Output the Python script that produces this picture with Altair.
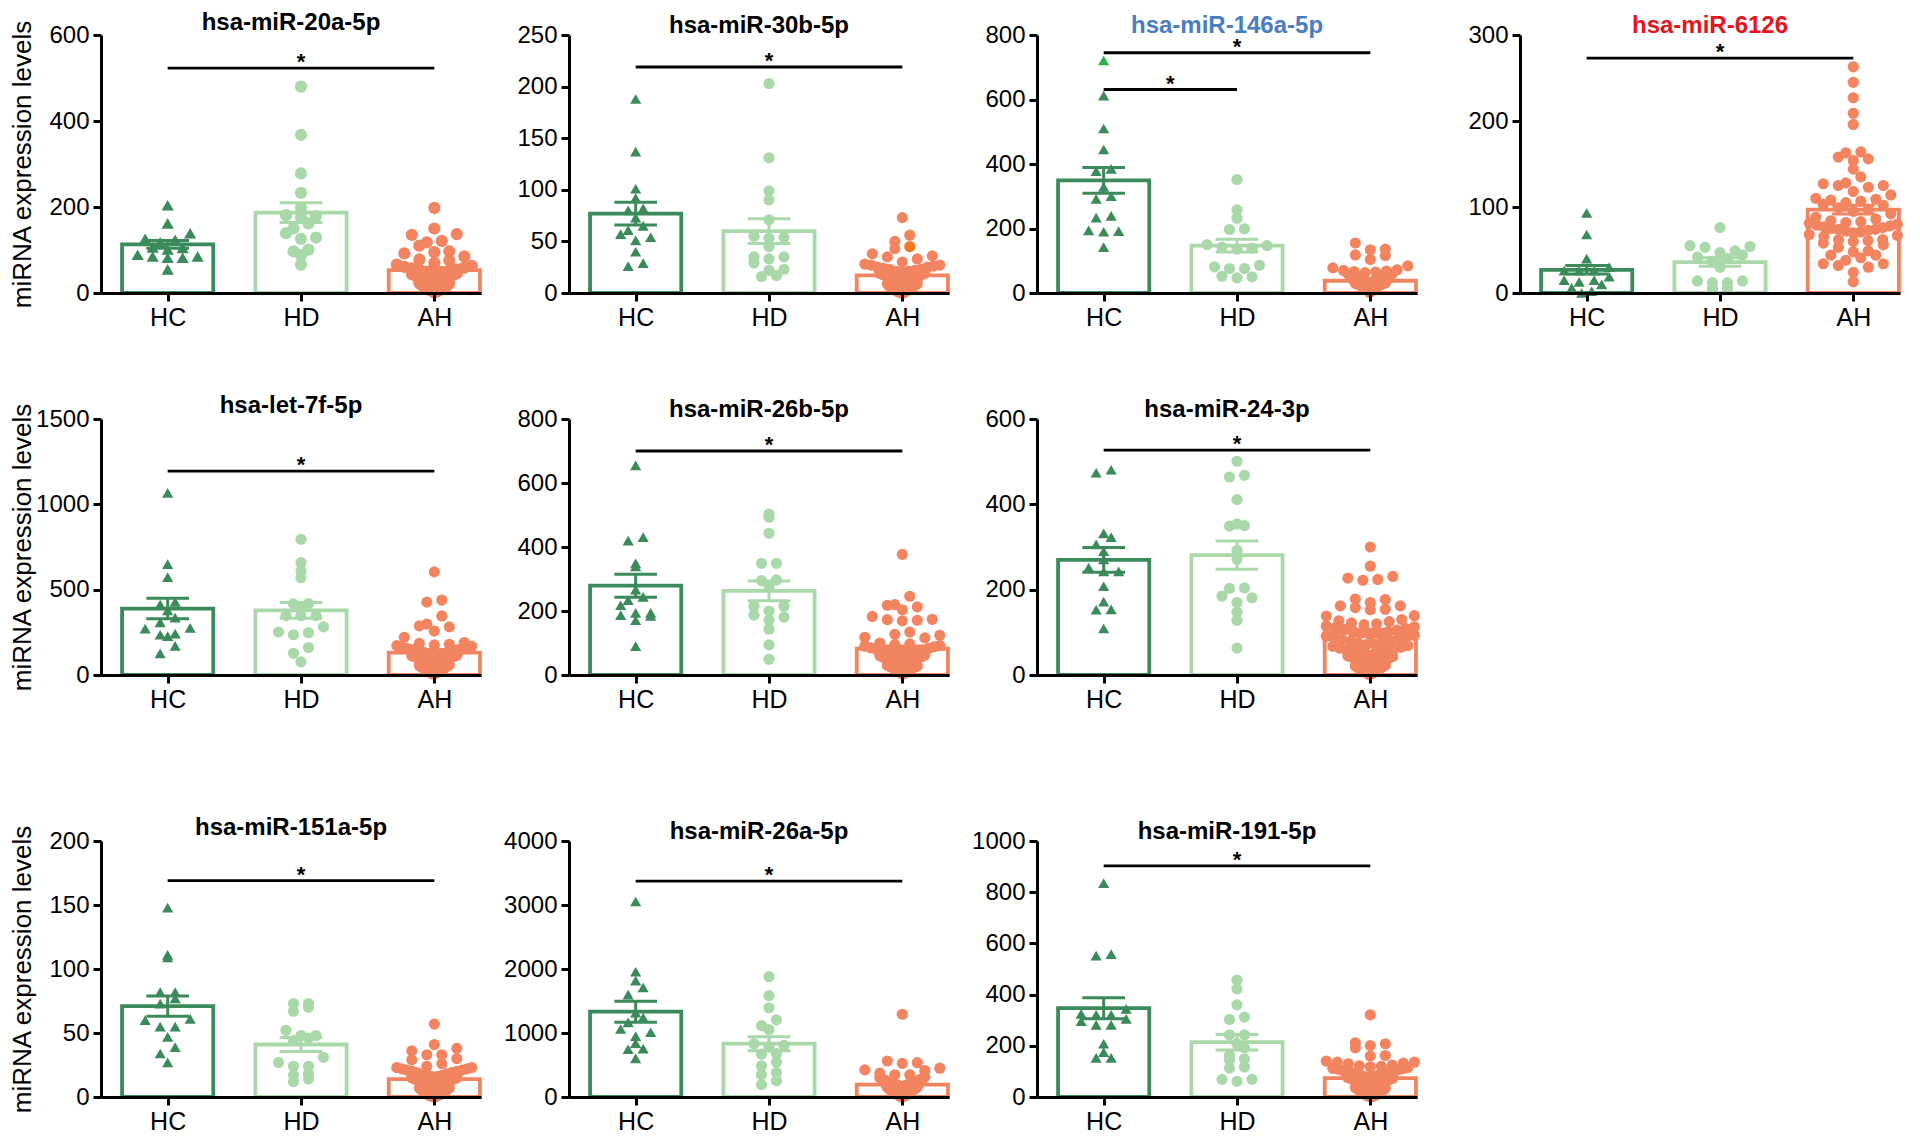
import math
import altair as alt
import pandas as pd

FONT = "Liberation Sans"
GROUPS = ["HC", "HD", "AH"]

TITLES = ["hsa-miR-20a-5p", "hsa-miR-30b-5p", "hsa-miR-146a-5p", "hsa-miR-6126",
          "hsa-let-7f-5p", "hsa-miR-26b-5p", "hsa-miR-24-3p",
          "hsa-miR-151a-5p", "hsa-miR-26a-5p", "hsa-miR-191-5p"]
Y_MAX = [600, 250, 800, 300, 1500, 800, 600, 200, 4000, 1000]
Y_STEP = [200, 50, 200, 100, 500, 200, 200, 50, 1000, 200]
Y_TITLE = "miRNA expression levels"

# ---- hsa-miR-20a-5p
MIR20A_HC = [204, 162, 139, 126, 118, 124, 105, 106, 85, 82, 101, 82, 85, 89, 55]
MIR20A_HD = [480, 368, 278, 233, 198, 181, 175, 179, 162, 150, 139, 129, 126, 97, 101, 88, 66]
MIR20A_AH = [198, 150, 137, 135, 121, 118, 110, 97, 95, 92, 85, 78, 76, 70,
             66, 63, 61, 59, 57, 55, 54, 52, 50, 49, 47, 46, 44, 43, 41, 40, 38, 37, 35, 34,
             32, 31, 30, 28, 27, 26, 24, 23, 22, 20, 19, 18, 16, 15, 14, 12, 11, 10, 9, 8,
             7, 6, 5, 4, 3, 2]
MIR20A_MEAN = [113, 187, 53]
MIR20A_SEM = [9, 23, 5]

# ---- hsa-miR-30b-5p
MIR30B_HC = [188, 137, 101, 92, 82, 80, 73, 65, 61, 54, 57, 51, 40, 26, 29]
MIR30B_HD = [203, 131, 99, 90, 71, 55, 53, 54, 45, 35, 33, 35, 29, 22, 23, 16, 17]
MIR30B_AH = [73, 56, 50, 45, 43, 36, 33, 35, 38, 27, 30,
             28, 27, 26, 25, 25, 24, 23, 23, 22, 21, 21, 20, 19, 19, 18, 18, 17, 16, 16, 15,
             15, 14, 13, 13, 12, 12, 11, 10, 10, 9, 9, 8, 7, 7, 6, 6, 5, 5, 4, 4, 3, 3, 2, 2,
             1, 1, 1, 0, 0]
MIR30B_MEAN = [77, 60, 17]
MIR30B_SEM = [11, 12, 2]

# ---- hsa-miR-146a-5p
MIR146A_HC = [721, 612, 510, 445, 385, 378, 329, 292, 300, 239, 234, 192, 190, 194, 142]
MIR146A_HD = [352, 258, 232, 197, 199, 147, 150, 139, 136, 142, 86, 81, 76, 76, 52, 47, 50]
MIR146A_AH = [155, 136, 134, 118, 116, 104, 84, 78,
              72, 70, 68, 66, 65, 63, 62, 60, 58, 57, 56, 55, 54, 52, 51, 50, 49, 48, 47, 46,
              45, 44, 43, 42, 41, 40, 39, 38, 37, 36, 35, 34, 33, 32, 31, 30, 29, 28, 27, 26,
              25, 24, 22, 20, 18, 16, 14, 12, 10, 8, 5, 2]
MIR146A_MEAN = [349, 147, 38]
MIR146A_SEM = [40, 20, 4]

# ---- hsa-miR-6126
MIR6126_HC = [93, 68, 40, 30, 26, 26, 26, 19, 15, 13, 15, 10, 6, 2, 0]
MIR6126_HD = [76, 53, 55, 54, 42, 49, 44, 47, 40, 30, 14, 12, 12, 14, 5, 6, 37]
MIR6126_AH = [263, 245, 227, 209, 196, 163, 164, 156, 154, 158, 144, 135, 127, 125, 123, 125,
              128, 118, 114, 109, 107, 110, 108, 105, 103, 102, 92, 79, 78, 77, 76, 75, 74, 74,
              73, 72, 71, 70, 68, 67, 62, 62, 61, 60, 53, 49, 48, 44, 44, 41, 38, 34, 34, 32,
              24, 13, 88, 86, 84, 83, 82, 81, 80, 95, 99, 97, 66, 58, 56, 30]
MIR6126_MEAN = [27, 36, 97]
MIR6126_SEM = [5, 5, 5]

# ---- hsa-let-7f-5p
LET7F_HC = [1067, 650, 574, 413, 429, 379, 336, 308, 272, 276, 236, 228, 242, 171, 127]
LET7F_HD = [795, 658, 610, 570, 419, 417, 403, 348, 348, 348, 282, 248, 236, 252, 161, 127, 77]
LET7F_AH = [604, 427, 439, 346, 298, 282, 258, 288, 221,
            190, 185, 180, 176, 172, 168, 165, 162, 158, 155, 152, 150, 147, 144, 141, 138,
            135, 132, 130, 127, 124, 121, 118, 115, 112, 110, 107, 104, 100, 97, 94, 90, 86,
            82, 78, 74, 70, 66, 62, 58, 54, 50, 45, 40, 35, 30, 25, 20, 15, 10, 5]
LET7F_MEAN = [389, 379, 131]
LET7F_SEM = [60, 46, 17]

# ---- hsa-miR-26b-5p
MIR26B_HC = [655, 420, 431, 349, 339, 267, 244, 234, 218, 194, 185, 171, 187, 194, 90]
MIR26B_HD = [503, 493, 443, 349, 349, 295, 297, 276, 215, 215, 187, 200, 181, 171, 143, 94, 49]
MIR26B_AH = [377, 246, 204, 218, 220, 213, 173, 171, 169, 174, 183, 134, 124, 116, 118, 127,
             100, 97, 95, 92, 90, 88, 85, 83, 80, 78, 76, 74, 72, 70, 68, 66, 64, 62, 60, 58,
             56, 54, 52, 50, 48, 46, 44, 42, 40, 38, 36, 34, 32, 30, 28, 26, 24, 22, 20, 17,
             14, 11, 7, 3]
MIR26B_MEAN = [279, 263, 82]
MIR26B_SEM = [36, 31, 9]

# ---- hsa-miR-24-3p
MIR24_HC = [474, 481, 323, 332, 306, 290, 271, 252, 243, 243, 208, 154, 153, 172, 109]
MIR24_HD = [501, 468, 464, 411, 350, 349, 354, 292, 271, 185, 204, 203, 170, 181, 147, 128, 63]
MIR24_AH = [300, 255, 231, 224, 222, 227, 177, 178, 162, 162, 158, 170, 154, 153, 139, 138,
            130, 127, 125, 122, 120, 118, 115, 113, 111, 109, 107, 105, 103, 101, 99, 97, 95,
            93, 91, 89, 87, 85, 83, 81, 79, 77, 75, 73, 71, 69, 67, 65, 63, 61, 59, 57, 55,
            53, 51, 49, 47, 45, 43, 41, 39, 37, 35, 33, 31, 29, 27, 25, 23, 21, 19, 17, 15,
            13, 11, 9, 7, 5, 3, 1]
MIR24_MEAN = [270, 281, 99]
MIR24_SEM = [29, 33, 8]

# ---- hsa-miR-151a-5p
MIR151A_HC = [148, 109, 111, 82, 82, 77, 73, 61, 60, 55, 55, 47, 39, 34, 27]
MIR151A_HD = [73, 73, 70, 67, 52, 48, 44, 46, 48, 31, 27, 24, 24, 17, 18, 12, 14]
MIR151A_AH = [57, 41, 38, 36, 33, 29, 30, 33, 24, 26,
              23, 23, 22, 22, 21, 21, 20, 20, 19, 19, 18, 18, 17, 17, 16, 16, 15, 15, 14, 14,
              13, 13, 12, 12, 11, 11, 10, 10, 9, 9, 8, 8, 7, 7, 6, 6, 5, 5, 4, 4, 3, 3, 2, 2,
              2, 1, 1, 1, 0, 0]
MIR151A_MEAN = [71, 41, 14]
MIR151A_SEM = [8, 5.5, 1.5]

# ---- hsa-miR-26a-5p
MIR26A_HC = [3055, 1957, 1819, 1711, 1599, 1318, 1241, 1165, 1063, 1012, 950, 843, 756, 746, 603]
MIR26A_HD = [1880, 1584, 1395, 1206, 1114, 1052, 833, 807, 679, 782, 669, 542, 485, 383, 347,
             255, 194]
MIR26A_AH = [1293, 562, 526, 536, 424, 414, 347, 373, 450, 347,
             310, 300, 290, 282, 275, 268, 260, 252, 245, 238, 232, 225, 218, 212, 205, 198,
             192, 186, 180, 174, 168, 162, 156, 150, 144, 138, 132, 126, 120, 114, 108, 102,
             96, 90, 84, 78, 72, 66, 60, 54, 48, 42, 36, 30, 24, 18, 12, 8, 4, 1]
MIR26A_MEAN = [1333, 833, 194]
MIR26A_SEM = [165, 110, 25]

# ---- hsa-miR-191-5p
MIR191_HC = [835, 552, 558, 344, 325, 321, 321, 305, 296, 282, 282, 208, 175, 153, 153]
MIR191_HD = [457, 422, 360, 312, 303, 243, 243, 208, 192, 162, 149, 145, 117, 113, 69, 61, 69]
MIR191_AH = [321, 208, 201, 212, 192, 162, 140, 136, 136, 160, 132, 130,
             125, 122, 118, 115, 112, 109, 106, 103, 100, 97, 94, 91, 88, 85, 82, 79, 76, 73,
             70, 67, 64, 61, 58, 55, 52, 49, 46, 43, 40, 37, 34, 31, 28, 25, 22, 19, 16, 13,
             10, 8, 6, 4, 2, 1, 120, 110, 95, 80]
MIR191_MEAN = [347, 214, 74]
MIR191_SEM = [41, 30, 8]

# significance bars: (panel, from group, to group, height)
SIG_PANEL = [0, 1, 2, 2, 3, 4, 5, 6, 7, 8, 9]
SIG_FROM = [0, 0, 0, 0, 0, 0, 0, 0, 0, 0, 0]
SIG_TO = [2, 2, 2, 1, 2, 2, 2, 2, 2, 2, 2]
SIG_Y = [523, 219, 745, 631, 273, 1194, 700, 527, 169, 3372, 903]

# individually coloured points: (panel, group, value)
HIGHLIGHT_PANEL = [2, 1]
HIGHLIGHT_GROUP = [0, 2]
HIGHLIGHT_VALUE = [721, 45]

# ---------------- styles / layout
GROUP_COLORS = ["#3B8A5A", "#A9D8A9", "#F2845F"]
HIGHLIGHT_COLORS = ["#2BB24A", "#F27A1E"]
TITLE_COLORS = ["black", "black", "#4A7CC0", "#E8141B", "black", "black", "black",
                "black", "black", "black"]
SHAPES = ["triangle-up", "circle", "circle"]
POINT_SIZES = [150, 125, 125, 125, 125, 125, 125, 125, 125, 125]

PANEL_DATA = [
    (MIR20A_HC, MIR20A_HD, MIR20A_AH, MIR20A_MEAN, MIR20A_SEM),
    (MIR30B_HC, MIR30B_HD, MIR30B_AH, MIR30B_MEAN, MIR30B_SEM),
    (MIR146A_HC, MIR146A_HD, MIR146A_AH, MIR146A_MEAN, MIR146A_SEM),
    (MIR6126_HC, MIR6126_HD, MIR6126_AH, MIR6126_MEAN, MIR6126_SEM),
    (LET7F_HC, LET7F_HD, LET7F_AH, LET7F_MEAN, LET7F_SEM),
    (MIR26B_HC, MIR26B_HD, MIR26B_AH, MIR26B_MEAN, MIR26B_SEM),
    (MIR24_HC, MIR24_HD, MIR24_AH, MIR24_MEAN, MIR24_SEM),
    (MIR151A_HC, MIR151A_HD, MIR151A_AH, MIR151A_MEAN, MIR151A_SEM),
    (MIR26A_HC, MIR26A_HD, MIR26A_AH, MIR26A_MEAN, MIR26A_SEM),
    (MIR191_HC, MIR191_HD, MIR191_AH, MIR191_MEAN, MIR191_SEM),
]

W = 380
XMAX = 2.85
PX_X = W / XMAX
HEIGHTS = [258, 258, 258, 258, 256, 256, 256, 256, 256, 256]
Y_EXTENT = [66, 66, 66, 81, 66, 66, 66, 66, 66, 66]
BAR_HALF = 0.342
CAP_HALF = 0.16
DOT_STEP = 15.0
BIN_H = 10.0
MAX_HALF = 44.0
V_SLOPE = 1.5


def swarm(values, ppu):
    """GraphPad-like scatter: bin by height, spread each bin outward from the centre,
    inside a V-shaped envelope near the baseline."""
    order = sorted(range(len(values)), key=lambda k: values[k])
    bins = {}
    for k in order:
        b = int(math.floor(values[k] * ppu / BIN_H))
        bins.setdefault(b, []).append(k)
    off = [0.0] * len(values)
    for b, members in bins.items():
        n = len(members)
        ypx = (b + 0.5) * BIN_H
        limit = max(DOT_STEP, min(MAX_HALF, V_SLOPE * ypx))
        outer = (n - 1) / 2.0
        step = DOT_STEP
        if outer > 0 and outer * step > limit:
            step = limit / outer
        for j, k in enumerate(members):
            if n % 2 == 1:
                m = (j + 1) // 2
                sgn = 1 if j % 2 == 1 else -1
            else:
                m = j // 2 + 0.5
                sgn = -1 if j % 2 == 0 else 1
            off[k] = sgn * m * step
    return off


def panel(i, show_ytitle):
    H = HEIGHTS[i]
    ppu = H / Y_MAX[i]
    hc, hd, ah, means, sems = PANEL_DATA[i]
    rows = []
    for gi, vals in enumerate([hc, hd, ah]):
        offs = swarm(vals, ppu)
        for v, o in zip(vals, offs):
            col = GROUP_COLORS[gi]
            for hp, hg, hv, hcol in zip(HIGHLIGHT_PANEL, HIGHLIGHT_GROUP, HIGHLIGHT_VALUE,
                                        HIGHLIGHT_COLORS):
                if hp == i and hg == gi and hv == v:
                    col = hcol
            rows.append(dict(x=gi + 0.5 + o / PX_X, y=v, shape=SHAPES[gi], color=col))
    pts = pd.DataFrame(rows)

    bars = pd.DataFrame(dict(
        xc=[g + 0.5 for g in range(3)],
        xl=[g + 0.5 - BAR_HALF for g in range(3)],
        xr=[g + 0.5 + BAR_HALF for g in range(3)],
        cl=[g + 0.5 - CAP_HALF for g in range(3)],
        cr=[g + 0.5 + CAP_HALF for g in range(3)],
        mean=means,
        lo=[m - s for m, s in zip(means, sems)],
        hi=[m + s for m, s in zip(means, sems)],
        zero=[0, 0, 0],
        color=GROUP_COLORS,
    ))
    caps = pd.concat([
        bars[["cl", "cr", "color"]].assign(y=bars["hi"]),
        bars[["cl", "cr", "color"]].assign(y=bars["lo"]),
    ])

    srows = []
    for p, a, b, y in zip(SIG_PANEL, SIG_FROM, SIG_TO, SIG_Y):
        if p == i:
            srows.append(dict(xa=a + 0.5, xb=b + 0.5, xm=(a + b) / 2 + 0.5, y=y, s="*"))
    sig = pd.DataFrame(srows)

    xs = alt.Scale(domain=[0, XMAX], nice=False, zero=False)
    ys = alt.Scale(domain=[0, Y_MAX[i]], nice=False)
    ticks = list(range(0, Y_MAX[i] + 1, Y_STEP[i]))
    xaxis = alt.Axis(values=[0.5, 1.5, 2.5], title=None, zindex=1,
                     labelExpr="datum.value < 1 ? 'HC' : (datum.value < 2 ? 'HD' : 'AH')")
    if show_ytitle:
        yaxis = alt.Axis(values=ticks, title=Y_TITLE, format="d", zindex=1,
                         minExtent=Y_EXTENT[i], maxExtent=Y_EXTENT[i])
    else:
        yaxis = alt.Axis(values=ticks, title=None, format="d", zindex=1,
                         minExtent=Y_EXTENT[i], maxExtent=Y_EXTENT[i])

    def X(f):
        return alt.X(f, type="quantitative", scale=xs, axis=xaxis)

    def Y(f):
        return alt.Y(f, type="quantitative", scale=ys, axis=yaxis)

    bar = alt.Chart(bars).mark_rect(fillOpacity=0, strokeWidth=3.8).encode(
        x=X("xl"), x2="xr", y=Y("mean"), y2="zero",
        stroke=alt.Stroke("color:N", scale=None))
    dots = alt.Chart(pts).mark_point(filled=True, size=POINT_SIZES[i], opacity=1,
                                     strokeWidth=0).encode(
        x=X("x"), y=Y("y"),
        fill=alt.Fill("color:N", scale=None),
        shape=alt.Shape("shape:N", scale=None))
    err = alt.Chart(bars).mark_rule(strokeWidth=3).encode(
        x=X("xc"), y=Y("lo"), y2="hi", color=alt.Color("color:N", scale=None))
    cap = alt.Chart(caps).mark_rule(strokeWidth=3).encode(
        x=X("cl"), x2="cr", y=Y("y"), color=alt.Color("color:N", scale=None))
    sline = alt.Chart(sig).mark_rule(strokeWidth=2.8, color="black").encode(
        x=X("xa"), x2="xb", y=Y("y"))
    star = alt.Chart(sig).mark_text(fontSize=22, fontWeight="bold", font=FONT, color="black",
                                    baseline="alphabetic", dy=1).encode(
        x=X("xm"), y=Y("y"), text="s:N")

    return alt.layer(bar, dots, err, cap, sline, star).properties(
        width=W, height=H,
        title=alt.TitleParams(TITLES[i], color=TITLE_COLORS[i]))


row1 = alt.hconcat(panel(0, True), panel(1, False), panel(2, False), panel(3, False),
                   spacing=21)
row2 = alt.hconcat(panel(4, True), panel(5, False), panel(6, False), spacing=21)
row3 = alt.hconcat(panel(7, True), panel(8, False), panel(9, False), spacing=21)

chart = alt.vconcat(alt.vconcat(row1, row2, spacing=62), row3, spacing=102).properties(
    padding={"left": 0, "top": 2, "right": 5, "bottom": 0}
).configure_view(stroke=None).configure_axis(
    grid=False, domainColor="black", domainWidth=3, tickColor="black", tickWidth=3,
    tickSize=8, labelColor="black", labelFont=FONT, titleFont=FONT, titleColor="black",
    titleFontWeight="normal"
).configure_axisY(
    labelFontSize=24, labelPadding=4, titleFontSize=26, titlePadding=0
).configure_axisX(
    labelFontSize=25, labelPadding=4, minExtent=38, maxExtent=38
).configure_title(
    font=FONT, fontSize=24, fontWeight="bold", anchor="middle", offset=-15
)

chart.save("out.html", embed_options={"renderer": "svg", "actions": False})
